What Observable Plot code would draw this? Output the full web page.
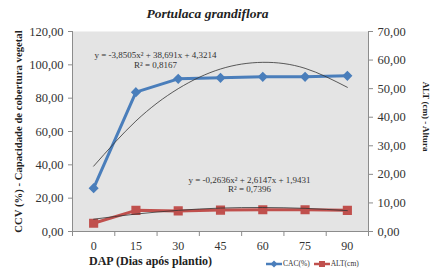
<!DOCTYPE html>
<html><head><meta charset="utf-8">
<script src="https://cdn.jsdelivr.net/npm/d3@7"></script>
<script src="https://cdn.jsdelivr.net/npm/@observablehq/plot@0.6"></script>
<style>
body{margin:0;background:#fff}
#c{position:relative;width:448px;height:278px;font-family:"Liberation Serif",serif}
#legend{position:absolute;left:266px;top:259px;font-size:7.5px;color:#333;display:flex;align-items:center;gap:4px;white-space:nowrap}
#legend span{display:inline-flex;align-items:center}
</style>
</head><body><div id="c"></div><script>
const dap = [0, 15, 30, 45, 60, 75, 90];
const cac = [26.0, 83.6, 91.6, 92.2, 92.8, 92.8, 93.4];
const alt = [2.9, 7.4, 7.2, 7.5, 7.6, 7.6, 7.4];
const cacTrend = [39.2, 66.3, 85.7, 97.5, 101.5, 97.9, 86.5];
const altTrend = [4.3, 6.1, 7.4, 8.2, 8.4, 8.1, 7.3];
const leftTicks = [0, 20, 40, 60, 80, 100, 120];
const rightTicks = [0, 10, 20, 30, 40, 50, 60, 70];
const eqCac = "y = -3,8505x² + 38,691x + 4,3214\nR² = 0,8167";
const eqAlt = "y = -0,2636x² + 2,6147x + 1,9431\nR² = 0,7396";
const title = "Portulaca grandiflora";
const xLabel = "DAP (Dias após plantio)";
const yLabel = "CCV (%) - Capacidade de cobertura vegetal";
const y2Label = "ALT (cm) - Altura";
const seriesNames = ["CAC(%)", "ALT(cm)"];

const blue = "#4a7ebb", red = "#c0504d", axisGray = "#8c8c8c";
const k = 120 / 70;
const step = dap[1] - dap[0];
const xDomain = [dap[0] - step / 2, dap[dap.length - 1] + step / 2];
const bounds = dap.map(d => d - step / 2).concat(xDomain[1]);
const fmt = v => (Math.round(v * 100) / 100).toFixed(2).replace(".", ",");
const rows = dap.map((d, i) => ({dap: d, cac: cac[i], alt: alt[i] * k, ct: cacTrend[i], at: altTrend[i] * k}));
const lbl = {textAnchor: "middle", lineAnchor: "middle", text: d => d};

const chart = Plot.plot({
  width: 448, height: 278,
  marginTop: 31, marginBottom: 47, marginLeft: 72, marginRight: 80,
  style: {fontFamily: "Liberation Serif, serif", fontSize: "12.5px", background: "transparent", color: "#333"},
  x: {domain: xDomain},
  y: {domain: [0, 120]},
  marks: [
    Plot.frame({fill: "#e4e4e4", stroke: null}),
    Plot.ruleX([xDomain[0], xDomain[1]], {stroke: axisGray}),
    Plot.ruleY([0], {stroke: axisGray}),
    Plot.axisY(leftTicks, {anchor: "left", tickSize: 4, tickPadding: 5, tickFormat: fmt, label: null, stroke: axisGray, fontSize: 12.5}),
    Plot.axisY(rightTicks.map(v => v * k), {anchor: "right", tickSize: 4, tickPadding: 5, tickFormat: v => fmt(v / k), label: null, stroke: axisGray, fontSize: 12.5}),
    Plot.axisX(dap, {tickSize: 0, tickPadding: 10, tickFormat: d => String(d), label: null, fontSize: 12}),
    Plot.axisX(bounds, {tickSize: 5, tickFormat: () => "", label: null, stroke: axisGray}),
    Plot.line(rows, {x: "dap", y: "cac", stroke: blue, strokeWidth: 3}),
    Plot.dot(rows, {x: "dap", y: "cac", symbol: "diamond2", r: 3.6, fill: blue, stroke: blue}),
    Plot.line(rows, {x: "dap", y: "alt", stroke: red, strokeWidth: 3}),
    Plot.dot(rows, {x: "dap", y: "alt", symbol: "square", r: 4.3, fill: red, stroke: red}),
    Plot.line(rows, {x: "dap", y: "ct", curve: "natural", stroke: "#333", strokeWidth: 0.8}),
    Plot.line(rows, {x: "dap", y: "at", curve: "natural", stroke: "#333", strokeWidth: 0.8}),
    Plot.text([eqCac], {...lbl, frameAnchor: "top-left", dx: 83, dy: 28.5, fontSize: 9, lineHeight: 1.05, fill: "#333"}),
    Plot.text([eqAlt], {...lbl, frameAnchor: "top-left", dx: 177, dy: 153, fontSize: 9, lineHeight: 1.05, fill: "#333"}),
    Plot.text([title], {...lbl, frameAnchor: "top", dx: -13, dy: -18, fontSize: 13.5, fontWeight: "bold", fontStyle: "italic", fill: "#222"}),
    Plot.text([yLabel], {...lbl, frameAnchor: "left", dx: -54, rotate: -90, fontSize: 10.7, fontWeight: "bold", fill: "#222"}),
    Plot.text([y2Label], {...lbl, frameAnchor: "right", dx: 57, dy: -15, rotate: 90, fontSize: 9, fontWeight: "bold", fill: "#222"}),
    Plot.text([xLabel], {...lbl, frameAnchor: "bottom", dx: -70, dy: 29.5, fontSize: 12, fontWeight: "bold", fill: "#222"})
  ]
});
const c = document.getElementById("c");
c.appendChild(chart);

const legend = document.createElement("div");
legend.id = "legend";
const colors = [blue, red];
const shapes = [
  '<path d="M8,0.5 L11.5,4 L8,7.5 L4.5,4 Z" fill="' + blue + '"/>',
  '<rect x="5" y="1" width="6" height="6" fill="' + red + '"/>'
];
legend.innerHTML = seriesNames.map((n, i) =>
  '<span><svg width="16" height="8" style="margin-right:1px"><line x1="0" x2="16" y1="4" y2="4" stroke="' + colors[i] + '" stroke-width="2.5"/>' + shapes[i] + '</svg>' + n + '</span>'
).join("");
c.appendChild(legend);
</script></body></html>
